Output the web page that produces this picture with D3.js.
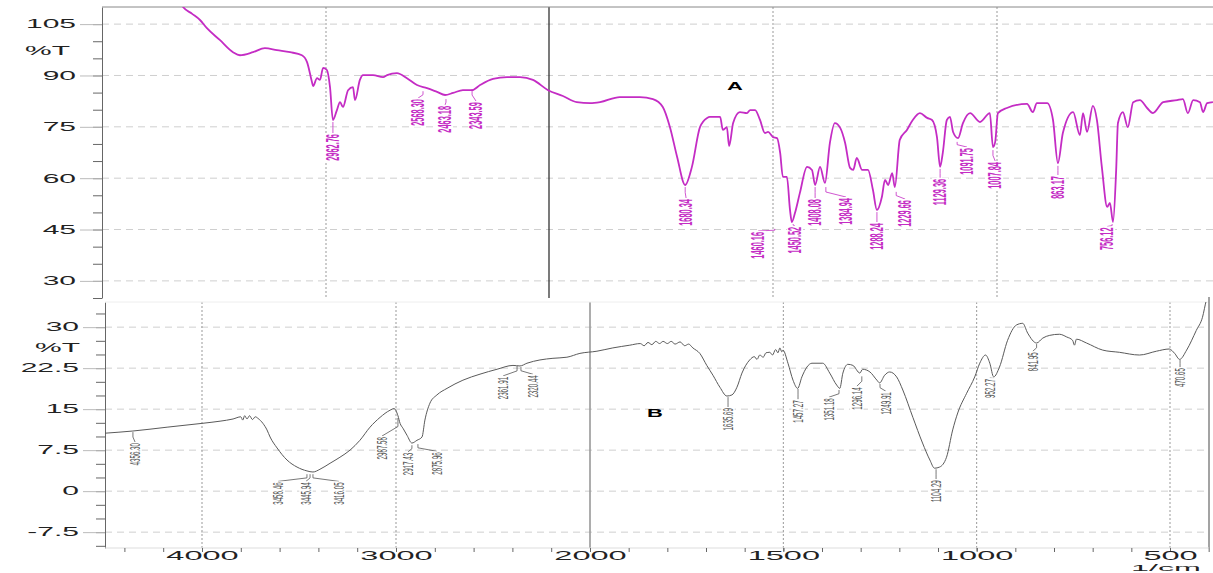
<!DOCTYPE html>
<html>
<head>
<meta charset="utf-8">
<script src="https://cdn.jsdelivr.net/npm/d3@7"></script>
<style>
  body { margin: 0; background: #fff; }
  svg { display: block; font-family: "Liberation Sans", Arial, sans-serif; }
</style>
</head>
<body>
<script>
// Spectrum A (top, magenta): wavenumber (1/cm) and %T
var topWn = [3660, 3641, 3600, 3565, 3534, 3475, 3417, 3386, 3327, 3274, 3220, 3161, 3108, 3085, 3063, 3058,
  3040, 3027, 3013, 2996, 2982, 2969, 2951, 2937, 2924, 2901, 2879, 2870, 2848, 2834, 2789, 2744, 2726, 2682,
  2637, 2592, 2547, 2502, 2466, 2430, 2386, 2345, 2309, 2251, 2188, 2130, 2072, 2004, 1969, 1938, 1908, 1886,
  1842, 1797, 1768, 1746, 1730, 1714, 1696, 1681, 1663, 1647, 1641, 1618, 1612, 1603, 1598, 1589, 1574, 1558,
  1551, 1540, 1529, 1518, 1511, 1500, 1491, 1484, 1478, 1469, 1462, 1458, 1451, 1440, 1424, 1413, 1406, 1395,
  1384, 1373, 1362, 1350, 1339, 1328, 1321, 1313, 1301, 1288, 1277, 1268, 1257, 1250, 1243, 1234, 1228, 1217,
  1201, 1188, 1172, 1156, 1145, 1134, 1127, 1121, 1112, 1105, 1098, 1087, 1076, 1060, 1038, 1016, 1009, 1004,
  998, 978, 933, 920, 911, 888, 875, 864, 853, 830, 815, 808, 799, 786, 777, 766, 754, 748, 741, 734, 730, 719,
  708, 696, 681, 665, 652, 629, 598, 585, 574, 562, 547, 540, 531, 518];
var topT = [112, 110, 108.0, 106.2, 103.8, 100.3, 96.8, 95.9, 96.8, 98.0, 97.4, 96.8, 95.9, 93.9, 88.1, 86.9,
  89.2, 88.7, 92.2, 91.6, 86.6, 77.0, 79.9, 82.2, 80.8, 85.7, 86.6, 82.8, 88.7, 90.1, 90.1, 89.5, 90.1, 90.7,
  89.2, 87.2, 86.3, 85.2, 84.3, 84.9, 85.7, 85.7, 87.2, 89.0, 89.5, 89.5, 88.7, 85.7, 84.0, 82.2, 81.9, 82.2,
  83.7, 83.7, 83.1, 80.8, 74.9, 66.2, 58.0, 63.3, 74.9, 77.6, 77.9, 77.9, 74.1, 74.9, 69.4, 76.1, 79.3, 79.0,
  79.9, 79.9, 77.0, 73.2, 73.5, 72.0, 71.7, 67.4, 60.4, 60.4, 50.7, 47.2, 49.8, 55.7, 63.3, 62.4, 58.0, 63.3,
  58.6, 70.3, 76.1, 74.7, 70.3, 63.0, 62.4, 65.9, 62.4, 62.4, 56.6, 50.7, 54.5, 59.5, 58.0, 61.5, 57.4, 71.2,
  74.1, 77.0, 79.0, 77.6, 77.0, 72.0, 63.3, 67.4, 77.0, 77.9, 73.5, 71.7, 76.1, 79.0, 76.4, 79.0, 69.1, 70.6,
  79.0, 80.5, 81.7, 79.3, 81.9, 81.9, 77.0, 64.4, 73.2, 79.3, 72.6, 79.0, 73.5, 81.1, 77.0, 63.3, 51.6, 52.8,
  47.2, 62.4, 76.1, 79.3, 74.9, 82.2, 82.8, 80.5, 79.0, 82.2, 82.8, 83.1, 79.0, 82.8, 82.2, 79.3, 81.9, 82.2];

// Spectrum B (bottom, grey)
var botWn = [4500, 4356, 4180, 4000, 3907, 3840, 3800, 3790, 3780, 3768, 3755, 3740, 3725, 3711, 3686, 3665,
  3649, 3613, 3562, 3510, 3459, 3428, 3392, 3340, 3289, 3237, 3186, 3134, 3082, 3031, 3010, 2990, 2979, 2964,
  2943, 2918, 2892, 2866, 2851, 2825, 2789, 2737, 2655, 2567, 2479, 2397, 2361, 2325, 2258, 2191, 2119, 2052,
  1982, 1941, 1897, 1870, 1860, 1850, 1840, 1830, 1820, 1811, 1800, 1790, 1780, 1767, 1755, 1745, 1734, 1716,
  1698, 1682, 1664, 1646, 1633, 1620, 1607, 1587, 1575, 1568, 1561, 1552, 1545, 1535, 1528, 1520, 1514, 1509,
  1504, 1501, 1488, 1475, 1463, 1452, 1439, 1426, 1398, 1380, 1362, 1354, 1346, 1333, 1320, 1302, 1295, 1276,
  1258, 1251, 1238, 1225, 1207, 1191, 1165, 1140, 1121, 1109, 1096, 1078, 1062, 1049, 1026, 1005, 992, 977,
  966, 956, 941, 920, 897, 881, 868, 845, 829, 811, 786, 767, 752, 747, 742, 716, 674, 631, 579, 535, 502, 488,
  475, 457, 432, 416, 406, 400];
var botT = [10.6, 11.0, 11.7, 12.4, 12.8, 13.2, 13.6, 13.0, 13.8, 13.2, 13.8, 13.1, 13.6, 13.3, 12.4, 11.2,
  9.9, 7.9, 5.7, 4.4, 3.7, 3.5, 4.0, 5.1, 6.2, 7.5, 9.3, 11.7, 13.5, 14.8, 15.1, 13.8, 12.4, 11.5,
  10.2, 8.8, 9.3, 9.9, 13.0, 16.1, 17.6, 18.8, 20.3, 21.4, 22.3, 23.0, 22.9, 23.4, 24.0, 24.3, 24.5, 25.2,
  25.6, 26.2, 26.7, 27.0, 26.6, 27.2, 26.8, 27.4, 27.0, 27.4, 27.0, 27.4, 26.9, 27.3, 26.6, 26.9, 26.2, 25.2,
  23.0, 21.2, 19.0, 17.4, 17.6, 19.0, 21.6, 24.0, 24.6, 24.1, 24.9, 24.5, 25.3, 25.4, 24.9, 25.9, 25.3, 26.2,
  25.5, 25.8, 23.4, 20.3, 18.8, 20.9, 22.7, 23.4, 23.4, 21.6, 19.4, 18.8, 21.6, 23.2, 23.0, 21.6, 22.3, 21.8,
  20.3, 19.8, 21.2, 21.8, 20.9, 18.5, 13.5, 8.8, 5.7, 4.2, 4.4, 6.2, 11.2, 14.3, 17.9, 20.9, 23.4, 24.9,
  23.4, 20.9, 22.7, 27.6, 30.4, 30.7, 28.9, 27.1, 28.0, 28.5, 28.7, 28.2, 27.6, 26.7, 27.8, 27.1, 25.8, 25.4,
  24.9, 25.6, 26.0, 25.2, 24.1, 25.8, 29.4, 31.8, 34.9, 36];

// peak labels: text, where the leader starts (wn, %T) and where the label hangs (wn, %T)
var topPeakText = ["2962.76", "2568.30", "2463.18", "2343.59", "1680.34", "1460.16", "1450.52", "1408.08",
  "1384.94", "1288.24", "1229.66", "1129.36", "1091.75", "1007.84", "863.17", "756.12"];
var topPeakWn = [2969, 2565, 2462, 2345, 1696, 1496, 1455, 1406, 1382, 1268, 1225, 1127, 1089, 1009, 864, 743];
var topPeakT = [76.4, 85.4, 83.1, 86.0, 57.4, 45.2, 46.6, 57.4, 57.4, 50.1, 56.0, 62.7, 70.6, 68.2, 63.6, 46.6];
var topLabelWn = [2969, 2587, 2466, 2327, 1694, 1533, 1451, 1406, 1337, 1268, 1205, 1127, 1067, 1004, 864, 754];
var topLabelT = [72.9, 83.1, 81.1, 82.2, 53.9, 44.3, 45.8, 53.9, 54.2, 46.9, 53.6, 59.8, 68.8, 64.7, 60.6, 45.6];

var botPeakText = ["4356.30", "3458.46", "3445.94", "3416.05", "2987.58", "2917.43", "2875.96", "2361.91",
  "2320.44", "1635.69", "1457.27", "1351.18", "1296.14", "1249.91", "1104.29", "952.27", "841.95", "470.65"];
var botPeakWn = [4356, 3459, 3443, 3428, 2990, 2918, 2887, 2376, 2356, 1643, 1462, 1356, 1297, 1250, 1105, 955, 845, 474];
var botPeakT = [10.8, 3.1, 3.1, 3.1, 13.4, 8.4, 8.6, 22.9, 22.7, 17.2, 18.7, 18.5, 21.0, 19.6, 4.0, 20.7, 26.9, 24.0];
var botLabelWn = [4345, 3608, 3464, 3294, 3072, 2938, 2789, 2448, 2294, 1643, 1462, 1382, 1310, 1235, 1105, 966, 855, 474];
var botLabelT = [8.8, 1.6, 1.6, 1.6, 9.9, 7.0, 7.1, 20.9, 21.2, 15.2, 16.6, 17.0, 19.0, 18.1, 2.0, 20.5, 25.4, 22.5];

// axis ticks
var topYTicks = [30, 45, 60, 75, 90, 105];
var botYTicks = [-7.5, 0, 7.5, 15, 22.5, 30];
var xTickLabels = [4000, 3000, 2000, 1500, 1000, 500];
var topVLines = [3000, 1500, 1000];
var botVLines = [4000, 3000, 1500, 1000, 500];

var W = 1213, H = 573;
var pTop = {left: 102, right: 1213, top: 7, bottom: 298};
var pBot = {left: 105, right: 1209, top: 302, bottom: 548};

// the scale is twice as wide below 2000 1/cm, like the instrument print
var xTop = d3.scaleLinear().domain([4000, 2000, 500]).range([103, 549, 1221]);
var yTop = d3.scaleLinear().domain([25, 110]).range([pTop.bottom, pTop.top]);
var xBot = d3.scaleLinear().domain([4000, 2000, 500]).range([202, 590, 1170]);
var yBot = d3.scaleLinear().domain([-10.4, 34.6]).range([pBot.bottom, pBot.top]);

var svg = d3.select("body").append("svg").attr("width", W).attr("height", H);

var defs = svg.append("defs");
[["clipTop", pTop], ["clipBot", pBot]].forEach(function (c) {
  defs.append("clipPath").attr("id", c[0]).append("rect")
    .attr("x", c[1].left).attr("y", c[1].top)
    .attr("width", c[1].right - c[1].left).attr("height", c[1].bottom - c[1].top);
});

// text in the print is stretched sideways
var SX = 2.5;

function panel(p, x, y, yTicks, vLines, axisSolid, solidColor) {
  var g = svg.append("g");
  // horizontal dashed grid
  g.selectAll(".hg").data(yTicks).enter().append("line")
    .attr("x1", p.left).attr("x2", p.right)
    .attr("y1", function (d) { return y(d); }).attr("y2", function (d) { return y(d); })
    .attr("stroke", "#cfcfcf").attr("stroke-dasharray", "7,5");
  // vertical dotted lines
  g.selectAll(".vg").data(vLines).enter().append("line")
    .attr("x1", function (d) { return x(d); }).attr("x2", function (d) { return x(d); })
    .attr("y1", p.top).attr("y2", p.bottom)
    .attr("stroke", "#999").attr("stroke-dasharray", "2,2");
  g.append("line")
    .attr("x1", x(2000)).attr("x2", x(2000)).attr("y1", p.top).attr("y2", p.bottom)
    .attr("stroke", solidColor).attr("stroke-width", axisSolid);

  // y axis: minor ticks
  var step = (yTicks[1] - yTicks[0]) / 3;
  var minors = d3.range(Math.ceil(y.domain()[0] / step) * step, y.domain()[1], step);
  var mi = g.append("g").attr("transform", "translate(" + p.left + ",0)")
    .call(d3.axisLeft(y).tickValues(minors).tickSize(9).tickSizeOuter(0).tickFormat(""));
  mi.selectAll("line").attr("stroke", "#666");
  mi.select(".domain").attr("stroke", "#666");

  var ma = g.append("g").attr("transform", "translate(" + p.left + ",0)")
    .call(d3.axisLeft(y).tickValues(yTicks).tickSize(22).tickSizeOuter(0).tickFormat(String));
  ma.select(".domain").remove();
  ma.selectAll("line").attr("stroke", "#bbb");
  ma.selectAll("text")
    .attr("x", -26 / SX).attr("font-size", 12).attr("fill", "#222")
    .attr("font-family", "'Liberation Sans', Arial, sans-serif")
    .attr("transform", "scale(" + SX + ",1)");
  return g;
}

function peakLabels(x, y, texts, pkWn, pkT, lbWn, lbT, color, fs, weight) {
  var g = svg.append("g");
  texts.forEach(function (t, i) {
    var x0 = x(pkWn[i]), y0 = y(pkT[i]), x1 = x(lbWn[i]), y1 = y(lbT[i]);
    var ym = y0 + (y1 - y0) * 0.45;
    g.append("polyline")
      .attr("points", [[x0, y0], [x0, ym], [x1, y1 - 1]].join(" "))
      .attr("fill", "none").attr("stroke", color).attr("stroke-width", 0.8);
    var lab = g.append("g")
      .attr("transform", "translate(" + x1 + "," + y1 + ") scale(" + (SX - 0.1) + ",1) rotate(-90)");
    var txt = lab.append("text")
      .attr("text-anchor", "end").attr("dy", "0.35em")
      .attr("font-size", fs).attr("font-weight", weight).attr("fill", color).text(t);
    var len = txt.node().getComputedTextLength();
    lab.insert("rect", "text")
      .attr("x", -len - 1).attr("y", -fs * 0.45)
      .attr("width", len + 2).attr("height", fs * 0.9).attr("fill", "#fff");
  });
}

// ---- top panel (A)
panel(pTop, xTop, yTop, topYTicks, topVLines, 1.2, "#222");
svg.append("line").attr("x1", pTop.left).attr("x2", pTop.right)
  .attr("y1", pTop.top).attr("y2", pTop.top).attr("stroke", "#888");

var lineTop = d3.line()
  .x(function (d, i) { return xTop(topWn[i]); })
  .y(function (d) { return yTop(d); })
  .curve(d3.curveMonotoneX);
svg.append("path").attr("clip-path", "url(#clipTop)")
  .attr("d", lineTop(topT))
  .attr("fill", "none").attr("stroke", "#c42cc4").attr("stroke-width", 1.8)
  .attr("stroke-linejoin", "round");

peakLabels(xTop, yTop, topPeakText, topPeakWn, topPeakT, topLabelWn, topLabelT, "#c42cc4", 7.4, "bold");

svg.append("text").attr("transform", "translate(70,55) scale(" + SX + ",1)")
  .attr("text-anchor", "end").attr("font-size", 12).attr("fill", "#222").text("%T");

svg.append("text").attr("transform", "translate(735,90) scale(2,1)")
  .attr("text-anchor", "middle").attr("font-size", 11).attr("font-weight", "bold").text("A");

// ---- bottom panel (B)
panel(pBot, xBot, yBot, botYTicks, botVLines, 1.6, "#999");
svg.append("line").attr("x1", pBot.left).attr("x2", pBot.right)
  .attr("y1", pBot.top).attr("y2", pBot.top).attr("stroke", "#eee");
svg.append("line").attr("x1", pBot.right).attr("x2", pBot.right)
  .attr("y1", pBot.top - 5).attr("y2", pBot.bottom).attr("stroke", "#666").attr("stroke-width", 1.2);
svg.append("line").attr("x1", pBot.left).attr("x2", pBot.right)
  .attr("y1", pBot.bottom).attr("y2", pBot.bottom).attr("stroke", "#ddd");

var lineBot = d3.line()
  .x(function (d, i) { return xBot(botWn[i]); })
  .y(function (d) { return yBot(d); })
  .curve(d3.curveMonotoneX);
svg.append("path").attr("clip-path", "url(#clipBot)")
  .attr("d", lineBot(botT))
  .attr("fill", "none").attr("stroke", "#5a5a5a").attr("stroke-width", 1)
  .attr("stroke-linejoin", "round");

peakLabels(xBot, yBot, botPeakText, botPeakWn, botPeakT, botLabelWn, botLabelT, "#555", 6.2, "normal");

svg.append("text").attr("transform", "translate(80,352) scale(" + SX + ",1)")
  .attr("text-anchor", "end").attr("font-size", 12).attr("fill", "#222").text("%T");

svg.append("text").attr("transform", "translate(655,417) scale(2,1)")
  .attr("text-anchor", "middle").attr("font-size", 11).attr("font-weight", "bold").text("B");

// x axis
var xMinor = d3.range(4400, 1999, -200).concat(d3.range(1900, 399, -100));
var xm = svg.append("g").attr("transform", "translate(0," + pBot.bottom + ")")
  .call(d3.axisBottom(xBot).tickValues(xMinor).tickSize(4).tickFormat(""));
xm.select(".domain").remove();
xm.selectAll("line").attr("stroke", "#666");

var xl = svg.append("g").attr("transform", "translate(0," + pBot.bottom + ")")
  .call(d3.axisBottom(xBot).tickValues(xTickLabels).tickSize(3).tickFormat(String));
xl.select(".domain").remove();
xl.selectAll("line").attr("stroke", "#666");
xl.selectAll("text")
  .attr("y", 11.5).attr("dy", null).attr("font-size", 13).attr("fill", "#222")
  .attr("font-family", "'Liberation Sans', Arial, sans-serif")
  .attr("transform", "scale(2.5,1)");

svg.append("text").attr("transform", "translate(1166,571) scale(3.4,1)")
  .attr("text-anchor", "middle").attr("font-size", 9.5).attr("fill", "#222").text("1/cm");
</script>
</body>
</html>
